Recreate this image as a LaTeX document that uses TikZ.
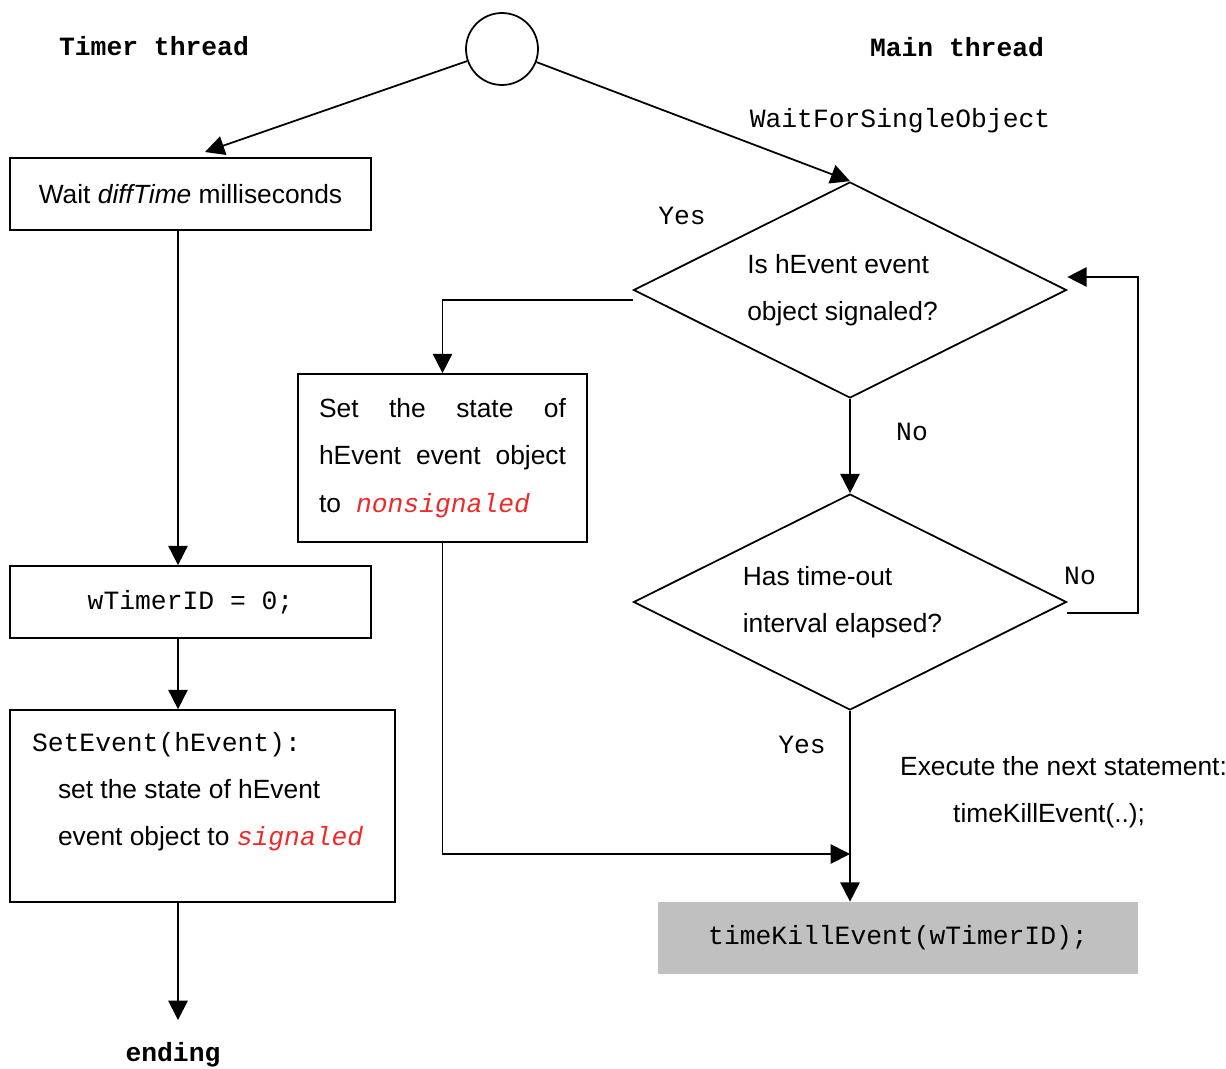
\documentclass[tikz,border=0pt]{standalone}
\usepackage{fontspec}
\setmainfont{Liberation Sans}
\setmonofont{Liberation Mono}
\usetikzlibrary{shapes.geometric,arrows.meta}
\definecolor{killgray}{RGB}{192,192,192}
\definecolor{statered}{RGB}{240,40,40}

\begin{document}
\begin{tikzpicture}[x=0.02cm, y=-0.02cm,
        every node/.style = {font=\fontsize{15}{27}\selectfont},
        code/.style = {font=\fontsize{15}{27}\selectfont\ttfamily},
        title/.style = {font=\fontsize{15}{27}\selectfont\ttfamily\bfseries},
        box/.style = {draw, line width=1pt, rectangle, minimum width=7.22cm, minimum height=1.44cm},
        test/.style = {draw, line width=1pt, diamond, aspect=2, inner sep=0pt, minimum width=8.66cm, minimum height=4.32cm, align=left},
        flow/.style = {line width=1pt, -{Triangle[length=11pt, width=11pt]}}]
        \useasboundingbox (0, 0) rectangle (1226, 1068);
        % start and the two threads
        \node [draw, circle, line width=1pt, minimum size=1.44cm] (start) at (502, 49) {};
        \node [title] (timer) at (154, 46) {Timer thread};
        \node [title] (mainthr) at (957, 47) {Main thread};
        % timer thread
        \node [box] (wait) at (190.5, 194) {Wait \textit{diffTime} milliseconds};
        \node [box, code] (tid) at (190.5, 602) {wTimerID = 0;};
        \node [box, minimum width=7.7cm, minimum height=3.84cm, inner xsep=0.44cm, inner ysep=0pt] (setev) at (202.5, 806)
        {\parbox[c][3.84cm][t]{6.82cm}{\vspace*{0.44cm}\texttt{SetEvent(hEvent):}\\
        \hspace*{0.52cm}set the state of hEvent\\
        \hspace*{0.52cm}event object to \textcolor{statered}{\texttt{\textit{signaled}}}}};
        \node [title] (ending) at (173, 1055) {ending};
        \coordinate (waitin) at (205, 152);
        \coordinate (stop) at (178, 1020);
        % main thread
        \node [code] (wfso) at (900, 121) {WaitForSingleObject};
        \node [test] (q1) at (850, 290) {Is hEvent event\\object signaled?\hspace*{0.3cm}};
        \node [test] (q2) at (850, 602) {Has time-out\\interval elapsed?\hspace*{0.3cm}};
        \node [box, text width=4.94cm, minimum width=5.78cm, minimum height=3.36cm, inner xsep=0.42cm, align=left] (reset) at (442.5, 458)
        {Set\hfill the\hfill state\hfill of\\hEvent\hfill event\hfill object\\to\hspace{0.3cm}\textcolor{statered}{\texttt{\textit{nonsignaled}}}};
        \node [code, fill=killgray, minimum width=9.6cm, minimum height=1.44cm] (kill) at (898, 938) {timeKillEvent(wTimerID);};
        \node [anchor=west, align=left] (note) at (894, 792) {Execute the next statement:\\\hspace*{1.06cm}timeKillEvent(..);};
        \coordinate (join) at (850, 854);
        % branch labels
        \node [code] (yes1) at (682, 216) {Yes};
        \node [code] (no1) at (912, 432) {No};
        \node [code] (no2) at (1080, 576) {No};
        \node [code] (yes2) at (802, 745) {Yes};
        % connectors
        \draw [flow] (start) -- (waitin);
        \draw [flow] (start) -- (q1.north);
        \draw [flow] ([xshift=-0.25cm]wait.south) -- ([xshift=-0.25cm]tid.north);
        \draw [flow] ([xshift=-0.25cm]tid.south) -- ([xshift=-0.49cm]setev.north);
        \draw [flow] ([xshift=-0.49cm]setev.south) -- (stop);
        \draw [flow] ([yshift=-0.2cm]q1.west) -| (reset.north);
        \draw [flow] (reset.south) |- (join);
        \draw [flow] (q1.south) -- (q2.north);
        \draw [flow] ([yshift=-0.22cm]q2.east) -- ++(71, 0) |- ([yshift=0.26cm]q1.east);
        \draw [flow] (q2.south) -- (q2.south |- kill.north);
    \end{tikzpicture}
\end{document}
